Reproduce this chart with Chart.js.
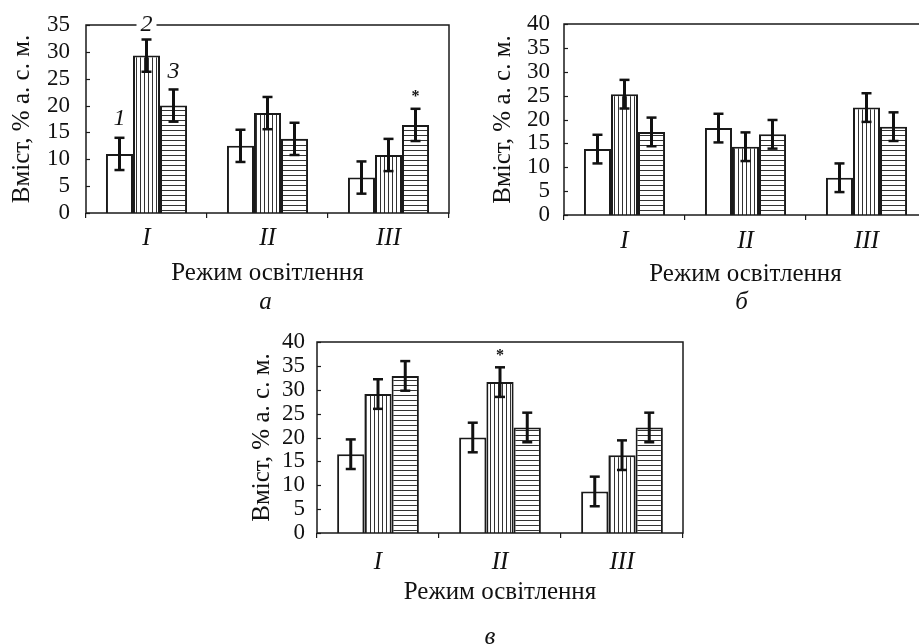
<!DOCTYPE html>
<html>
<head>
<meta charset="utf-8">
<script src="https://cdn.jsdelivr.net/npm/chart.js@4.4.0/dist/chart.umd.min.js"></script>
<style>
  html, body { margin: 0; padding: 0; background: #fff; overflow: hidden; width: 919px; height: 644px; }
  canvas { position: absolute; }
</style>
</head>
<body>
<canvas id="chart-a" width="460" height="330" style="left:0;top:0"></canvas>
<canvas id="chart-b" width="470" height="330" style="left:470px;top:0"></canvas>
<canvas id="chart-c" width="470" height="324" style="left:230px;top:320px"></canvas>
<script>
// categories and tick labels
const regimes = ['I', 'II', 'III'];
const yTitle = 'Вміст, % а. с. м.';
const xTitle = 'Режим освітлення';
const seriesNumbers = ['1', '2', '3'];

// panel а
const whiteA = [11.0, 12.5, 6.6];
const vertA = [29.3, 18.6, 10.8];
const horizA = [20.0, 13.8, 16.4];
const errA = [[3, 3, 3], [3, 3, 3], [3, 3, 3]];
const numberValuesA = [17.5, 35, 26.3]; // where the 1-2-3 labels sit over group I
const starsA = [[2, 2, 22.1]];          // [group, series, value]

// panel б
const whiteB = [13.8, 18.2, 7.8];
const vertB = [25.3, 14.3, 22.5];
const horizB = [17.4, 16.9, 18.5];
const errB = [[3, 3, 3], [3, 3, 3], [3, 3, 3]];

// panel в
const whiteC = [16.5, 20.0, 8.7];
const vertC = [29.1, 31.6, 16.3];
const horizC = [32.9, 22.1, 22.1];
const errC = [[3.1, 3.1, 3.1], [3.1, 3.1, 3.1], [3.1, 3.1, 3.1]];
const starsC = [[1, 1, 37.7]];

const FONT = '"Liberation Serif", "DejaVu Serif", serif';
const INK = '#1a1a1a';

// stripes for the 2nd and 3rd series
function stripes(ctx, vertical) {
    const step = vertical ? 4 : 5;
    const c = document.createElement('canvas');
    c.width = step; c.height = step;
    const g = c.getContext('2d');
    g.fillStyle = '#fff';
    g.fillRect(0, 0, step, step);
    g.fillStyle = '#333';
    if (vertical) g.fillRect(0, 0, 1, step); else g.fillRect(0, 0, step, 1);
    return ctx.createPattern(c, 'repeat');
}

function line(ctx, x1, y1, x2, y2) {
    ctx.beginPath();
    ctx.moveTo(x1, y1);
    ctx.lineTo(x2, y2);
    ctx.stroke();
}

// frame, inner ticks, error bars, marks and panel letter
const decor = {
    id: 'decor',
    afterDraw(chart, args, o) {
        const ctx = chart.ctx, a = chart.chartArea;
        const y = chart.scales.y;
        ctx.save();
        ctx.strokeStyle = INK;
        ctx.lineWidth = 1.5;
        ctx.strokeRect(a.left, a.top, a.right - a.left, a.bottom - a.top);
        ctx.lineWidth = 1.2;
        y.ticks.forEach(t => {
            const py = Math.round(y.getPixelForValue(t.value)) + 0.5;
            line(ctx, a.left, py, a.left + 4, py);
        });

        // error bars
        ctx.strokeStyle = '#111';
        chart.data.datasets.forEach((ds, i) => {
            chart.getDatasetMeta(i).data.forEach((bar, j) => {
                const v = ds.data[j], e = o.errors[i][j];
                const top = y.getPixelForValue(v + e), bot = y.getPixelForValue(v - e);
                ctx.lineWidth = 3;
                line(ctx, bar.x, top, bar.x, bot);
                ctx.lineWidth = 2.5;
                line(ctx, bar.x - 5, top, bar.x + 5, top);
                line(ctx, bar.x - 5, bot, bar.x + 5, bot);
            });
        });

        ctx.fillStyle = '#111';
        ctx.textAlign = 'center';
        ctx.textBaseline = 'middle';

        (o.stars || []).forEach(s => {
            const bar = chart.getDatasetMeta(s[1]).data[s[0]];
            ctx.font = 'bold 16px ' + FONT;
            ctx.fillText('*', bar.x, y.getPixelForValue(s[2]) + 3);
        });

        if (o.numbers) {
            ctx.font = 'italic 24px ' + FONT;
            o.numbers.forEach((v, i) => {
                const bar = chart.getDatasetMeta(i).data[0];
                const py = y.getPixelForValue(v);
                if (v >= y.max) {
                    ctx.fillStyle = '#fff';
                    ctx.fillRect(bar.x - 10, py - 3, 20, 6);
                    ctx.fillStyle = '#111';
                }
                ctx.fillText(seriesNumbers[i], bar.x, py);
            });
        }

        ctx.font = 'italic 25px ' + FONT;
        ctx.fillText(o.letter, (a.left + a.right) / 2 + o.letterDx, a.bottom + o.letterDy);
        ctx.restore();
    }
};

function makeChart(id, p) {
    const ctx = document.getElementById(id).getContext('2d');
    const fill = ['#fff', stripes(ctx, true), stripes(ctx, false)];
    const sets = [p.white, p.vert, p.horiz].map((d, i) => ({
        data: d,
        backgroundColor: fill[i],
        borderColor: INK,
        borderWidth: 2,
        categoryPercentage: 0.67,
        barPercentage: 1.0
    }));
    return new Chart(ctx, {
        type: 'bar',
        data: { labels: regimes, datasets: sets },
        plugins: [decor],
        options: {
            responsive: false,
            animation: false,
            devicePixelRatio: 1,
            layout: { padding: { left: 0, top: p.top, right: p.right, bottom: p.bottom } },
            plugins: {
                legend: { display: false },
                tooltip: { enabled: false },
                decor: {
                    errors: p.errors, stars: p.stars, numbers: p.numbers,
                    letter: p.letter, letterDx: p.letterDx, letterDy: p.letterDy
                }
            },
            scales: {
                x: {
                    grid: { display: true, drawOnChartArea: false, offset: true, tickLength: 5, color: INK, lineWidth: 1.2 },
                    border: { display: false },
                    ticks: { color: '#111', padding: p.xTickPad, font: { family: FONT, size: 25, style: 'italic' } },
                    title: { display: true, text: xTitle, color: '#111', padding: { top: 0, bottom: 0 }, font: { family: FONT, size: 25 } },
                    afterFit: s => { s.height = p.xH; }
                },
                y: {
                    min: 0, max: p.max,
                    grid: { display: false },
                    border: { display: false },
                    ticks: { stepSize: 5, autoSkip: false, color: '#111', padding: p.yTickPad, font: { family: FONT, size: 23, lineHeight: 1 } },
                    title: { display: true, text: yTitle, color: '#111', padding: { top: p.yTitlePad, bottom: 0 }, font: { family: FONT, size: 25 } },
                    afterFit: s => { s.width = p.yW; }
                }
            }
        }
    });
}

makeChart('chart-a', {
    white: whiteA, vert: vertA, horiz: horizA, errors: errA, max: 35,
    numbers: numberValuesA, stars: starsA, letter: 'а', letterDx: -2, letterDy: 89,
    top: 25, right: 11, bottom: 42, xH: 75, yW: 86, xTickPad: 5, yTickPad: 8, yTitlePad: 7
});
makeChart('chart-b', {
    white: whiteB, vert: vertB, horiz: horizB, errors: errB, max: 40,
    letter: 'б', letterDx: -4, letterDy: 87.5,
    top: 24, right: 13, bottom: 41, xH: 74, yW: 94, xTickPad: 6, yTickPad: 6, yTitlePad: 18
});
makeChart('chart-c', {
    white: whiteC, vert: vertC, horiz: horizC, errors: errC, max: 40,
    stars: starsC, letter: 'в', letterDx: -10, letterDy: 104,
    top: 22, right: 17, bottom: 37, xH: 74, yW: 87, xTickPad: 9, yTickPad: 4, yTitlePad: 17
});
</script>
</body>
</html>
